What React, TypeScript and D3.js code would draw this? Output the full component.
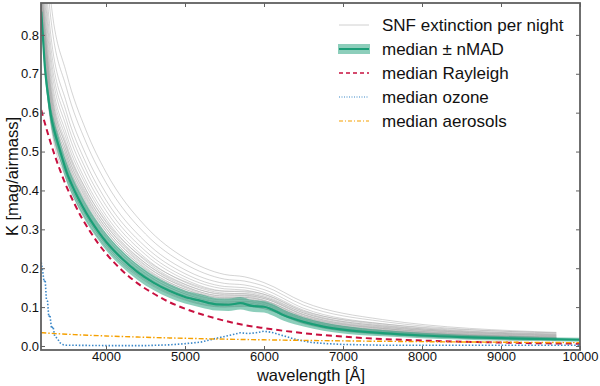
import React, { useRef, useEffect } from "react";
import * as d3 from "d3";

// median components, on one wavelength grid [Å]
const compWave = [3180, 3200, 3300, 3400, 3500, 3600, 3700, 3800, 3900, 4000, 4200, 4400, 4600, 4800, 5000, 5250, 5500, 5750, 6000, 6250, 6500, 7000, 7500, 8000, 8500, 9000, 9500, 10000];
const rayleigh = [0.607, 0.592, 0.522, 0.462, 0.41, 0.366, 0.327, 0.294, 0.264, 0.238, 0.195, 0.161, 0.135, 0.113, 0.096, 0.079, 0.065, 0.054, 0.046, 0.039, 0.033, 0.024, 0.018, 0.014, 0.011, 0.009, 0.007, 0.006];
const aerosols = [0.034, 0.034, 0.0325, 0.0314, 0.0303, 0.0293, 0.0283, 0.0275, 0.0266, 0.0258, 0.0244, 0.023, 0.0218, 0.0207, 0.0198, 0.0186, 0.0176, 0.0167, 0.0159, 0.0151, 0.0144, 0.0132, 0.0121, 0.0112, 0.0104, 0.0098, 0.0091, 0.0086];

// ozone has its own (finer) grid
const ozoneWave = [3180, 3200, 3215, 3230, 3245, 3260, 3275, 3290, 3310, 3330, 3350, 3380, 3420, 3460, 3500, 4000, 4500, 4800, 5000, 5200, 5400, 5600, 5700, 5800, 5900, 6000, 6100, 6200, 6400, 6600, 6800, 7000, 7500, 8000, 9000, 10000];
const ozone = [0.215, 0.19, 0.165, 0.17, 0.12, 0.115, 0.075, 0.08, 0.045, 0.05, 0.025, 0.02, 0.008, 0.003, 0.002, 0.001, 0.001, 0.003, 0.006, 0.01, 0.02, 0.029, 0.034, 0.032, 0.034, 0.038, 0.035, 0.029, 0.017, 0.009, 0.006, 0.004, 0.002, 0.002, 0.002, 0.002];

// median total extinction and its nMAD
const medWave = [3180, 3200, 3225, 3250, 3275, 3300, 3350, 3400, 3500, 3600, 3700, 3800, 3900, 4000, 4200, 4400, 4600, 4800, 5000, 5200, 5400, 5550, 5700, 5850, 6000, 6100, 6250, 6500, 6750, 7000, 7500, 8000, 8500, 9000, 9500, 10000];
const median = [0.86, 0.8, 0.72, 0.67, 0.63, 0.595, 0.55, 0.515, 0.448, 0.4, 0.36, 0.325, 0.295, 0.268, 0.225, 0.19, 0.163, 0.142, 0.126, 0.116, 0.107, 0.106, 0.11, 0.103, 0.101, 0.094, 0.079, 0.062, 0.05, 0.042, 0.033, 0.027, 0.023, 0.02, 0.018, 0.016];
const nmad = [0.02, 0.02, 0.021, 0.022, 0.023, 0.024, 0.025, 0.025, 0.025, 0.024, 0.024, 0.023, 0.022, 0.022, 0.021, 0.02, 0.019, 0.018, 0.017, 0.017, 0.016, 0.016, 0.016, 0.015, 0.015, 0.015, 0.014, 0.012, 0.011, 0.01, 0.008, 0.007, 0.006, 0.006, 0.005, 0.005];

// individual nights
const nightWave = [3180, 3300, 3500, 3750, 4000, 4500, 5000, 5500, 5750, 6000, 6500, 7500, 9700];
const nights = [
  [0.834, 0.571, 0.428, 0.325, 0.254, 0.166, 0.118, 0.1, 0.102, 0.096, 0.058, 0.03, 0.016],
  [0.847, 0.583, 0.438, 0.334, 0.261, 0.171, 0.122, 0.103, 0.105, 0.099, 0.06, 0.032, 0.017],
  [0.86, 0.595, 0.448, 0.342, 0.268, 0.176, 0.126, 0.106, 0.108, 0.101, 0.062, 0.033, 0.018],
  [0.873, 0.607, 0.458, 0.35, 0.275, 0.181, 0.13, 0.109, 0.111, 0.103, 0.064, 0.034, 0.018],
  [0.886, 0.619, 0.468, 0.359, 0.282, 0.187, 0.134, 0.112, 0.114, 0.106, 0.066, 0.036, 0.019],
  [0.899, 0.63, 0.478, 0.367, 0.289, 0.192, 0.138, 0.115, 0.116, 0.109, 0.068, 0.037, 0.02],
  [0.912, 0.642, 0.488, 0.376, 0.297, 0.197, 0.142, 0.119, 0.119, 0.111, 0.07, 0.039, 0.02],
  [0.925, 0.654, 0.499, 0.384, 0.304, 0.202, 0.146, 0.122, 0.122, 0.113, 0.072, 0.04, 0.021],
  [0.938, 0.666, 0.509, 0.393, 0.311, 0.208, 0.15, 0.125, 0.125, 0.116, 0.074, 0.041, 0.022],
  [0.951, 0.678, 0.519, 0.401, 0.318, 0.213, 0.154, 0.128, 0.128, 0.118, 0.076, 0.043, 0.023],
  [0.967, 0.692, 0.531, 0.412, 0.327, 0.219, 0.159, 0.132, 0.131, 0.122, 0.079, 0.045, 0.023],
  [0.983, 0.707, 0.544, 0.422, 0.336, 0.226, 0.164, 0.136, 0.134, 0.125, 0.081, 0.046, 0.024],
  [1.006, 0.728, 0.562, 0.437, 0.348, 0.235, 0.171, 0.141, 0.139, 0.129, 0.085, 0.049, 0.026],
  [1.029, 0.748, 0.58, 0.452, 0.361, 0.244, 0.178, 0.147, 0.144, 0.133, 0.088, 0.051, 0.027],
  [1.054, 0.772, 0.6, 0.469, 0.375, 0.255, 0.186, 0.153, 0.15, 0.138, 0.092, 0.054, 0.028],
  [1.087, 0.801, 0.625, 0.49, 0.393, 0.268, 0.196, 0.161, 0.157, 0.145, 0.097, 0.057, 0.03],
  [1.135, 0.845, 0.663, 0.522, 0.42, 0.288, 0.211, 0.172, 0.167, 0.154, 0.105, 0.063, 0.033],
  [1.184, 0.89, 0.701, 0.553, 0.447, 0.308, 0.226, 0.184, 0.178, 0.163, 0.113, 0.068, 0.035],
  [0.849, 0.585, 0.439, 0.333, 0.26, 0.169, 0.12, 0.101, 0.103, 0.096, 0.058, 0.03, 0.015],
  [0.865, 0.6, 0.453, 0.346, 0.272, 0.179, 0.129, 0.109, 0.111, 0.103, 0.064, 0.035, 0.019],
  [0.874, 0.609, 0.461, 0.354, 0.279, 0.185, 0.134, 0.113, 0.115, 0.107, 0.068, 0.038, 0.021],
  [0.885, 0.619, 0.47, 0.362, 0.287, 0.192, 0.14, 0.118, 0.12, 0.112, 0.072, 0.041, 0.023],
  [0.896, 0.629, 0.48, 0.371, 0.295, 0.199, 0.146, 0.124, 0.125, 0.117, 0.076, 0.045, 0.026],
  [0.907, 0.64, 0.489, 0.38, 0.303, 0.206, 0.152, 0.129, 0.13, 0.122, 0.081, 0.048, 0.029],
  [0.918, 0.65, 0.499, 0.389, 0.311, 0.213, 0.158, 0.134, 0.135, 0.126, 0.085, 0.052, 0.031],
  [0.932, 0.664, 0.512, 0.4, 0.321, 0.222, 0.166, 0.141, 0.141, 0.133, 0.09, 0.057, 0.034],
];

const xTicks = [4000, 5000, 6000, 7000, 8000, 9000, 10000];
const yTicks = [0, 0.1, 0.2, 0.3, 0.4, 0.5, 0.6, 0.7, 0.8];

const GREEN = "#1b9e77";
const RED = "#c8103f";
const BLUE = "#3a87c8";
const ORANGE = "#f5a000";
const FRAME = "#606060";

const App = () => {
  const svgRef = useRef<SVGSVGElement>(null);

  useEffect(() => {
    const width = 600;
    const height = 386;
    const left = 41, right = 580, top = 3, bottom = 350;

    const svg = d3.select(svgRef.current).attr("width", width).attr("height", height);
    svg.selectAll("*").remove();

    const x = d3.scaleLinear().domain([3177, 10000]).range([left, right]);
    const y = d3.scaleLinear().domain([-0.0103, 0.882]).range([bottom, top]);

    svg.append("clipPath").attr("id", "plot-clip")
      .append("rect").attr("x", left).attr("y", top).attr("width", right - left).attr("height", bottom - top);

    const g = svg.append("g").attr("clip-path", "url(#plot-clip)");

    const lineOn = (ws: number[]) =>
      d3.line<number>().x((_, i) => x(ws[i])).y((d) => y(d)).curve(d3.curveMonotoneX);

    // nights
    nights.forEach((n) => {
      g.append("path").attr("d", lineOn(nightWave)(n))
        .attr("fill", "none").attr("stroke", "#a8a8a8")
        .attr("stroke-width", 0.7).attr("stroke-opacity", 0.7);
    });

    // nMAD band
    const band = d3.area<number>()
      .x((_, i) => x(medWave[i]))
      .y0((d, i) => y(d - nmad[i]))
      .y1((d, i) => y(d + nmad[i]))
      .curve(d3.curveMonotoneX);
    g.append("path").attr("d", band(median)).attr("fill", GREEN).attr("fill-opacity", 0.5);

    g.append("path").attr("d", lineOn(medWave)(median))
      .attr("fill", "none").attr("stroke", GREEN).attr("stroke-width", 2.2);

    g.append("path").attr("d", lineOn(compWave)(rayleigh))
      .attr("fill", "none").attr("stroke", RED).attr("stroke-width", 2)
      .attr("stroke-dasharray", "6,4");

    g.append("path").attr("d", d3.line<number>().x((_, i) => x(ozoneWave[i])).y((d) => y(d))(ozone))
      .attr("fill", "none").attr("stroke", BLUE).attr("stroke-width", 1.6)
      .attr("stroke-dasharray", "1.5,1.8");

    g.append("path").attr("d", lineOn(compWave)(aerosols))
      .attr("fill", "none").attr("stroke", ORANGE).attr("stroke-width", 1.4)
      .attr("stroke-dasharray", "5,2,1.5,2");

    // axes with inward ticks on all four sides
    const styleAxis = (sel: any) => {
      sel.select(".domain").remove();
      sel.selectAll(".tick line").attr("stroke", FRAME).attr("stroke-width", 1);
      sel.selectAll(".tick text").attr("fill", "#111").attr("font-size", 13)
        .attr("font-family", "Liberation Sans, Arial, sans-serif");
    };

    svg.append("g").attr("transform", `translate(0,${bottom})`)
      .call(d3.axisBottom(x).tickValues(xTicks).tickFormat(d3.format("d")).tickSizeInner(-4).tickSizeOuter(0).tickPadding(2))
      .call(styleAxis);
    svg.append("g").attr("transform", `translate(0,${top})`)
      .call(d3.axisTop(x).tickValues(xTicks).tickFormat(() => "").tickSizeInner(-4).tickSizeOuter(0))
      .call(styleAxis);
    svg.append("g").attr("transform", `translate(${left},0)`)
      .call(d3.axisLeft(y).tickValues(yTicks).tickFormat(d3.format(".1f")).tickSizeInner(-4).tickSizeOuter(0).tickPadding(2))
      .call(styleAxis);
    svg.append("g").attr("transform", `translate(${right},0)`)
      .call(d3.axisRight(y).tickValues(yTicks).tickFormat(() => "").tickSizeInner(-4).tickSizeOuter(0))
      .call(styleAxis);

    svg.append("rect").attr("x", left).attr("y", top).attr("width", right - left).attr("height", bottom - top)
      .attr("fill", "none").attr("stroke", FRAME).attr("stroke-width", 1.8);

    // axis labels
    svg.append("text").attr("x", 311).attr("y", 380.5)
      .attr("text-anchor", "middle").attr("font-size", 16.5).attr("fill", "#111")
      .text("wavelength [Å]");
    svg.append("text").attr("transform", `translate(18,${(top + bottom) / 2}) rotate(-90)`)
      .attr("text-anchor", "middle").attr("font-size", 16.5).attr("fill", "#111")
      .text("K [mag/airmass]");

    // legend
    const legend = svg.append("g");
    const rows = [
      { label: "SNF extinction per night", kind: "night" },
      { label: "median ± nMAD", kind: "median" },
      { label: "median Rayleigh", kind: "rayleigh" },
      { label: "median ozone", kind: "ozone" },
      { label: "median aerosols", kind: "aerosols" },
    ];
    rows.forEach((r, i) => {
      const ry = 25 + i * 24;
      const row = legend.append("g").attr("transform", `translate(0,${ry})`);
      if (r.kind === "median") {
        row.append("rect").attr("x", 338).attr("y", -5).attr("width", 32).attr("height", 10)
          .attr("fill", GREEN).attr("fill-opacity", 0.5);
      }
      const seg = row.append("line").attr("x1", 339).attr("x2", 369).attr("y1", 0).attr("y2", 0);
      if (r.kind === "night") seg.attr("stroke", "#c4c4c4").attr("stroke-width", 0.8);
      if (r.kind === "median") seg.attr("stroke", GREEN).attr("stroke-width", 2);
      if (r.kind === "rayleigh") seg.attr("stroke", RED).attr("stroke-width", 1.6).attr("stroke-dasharray", "4,3");
      if (r.kind === "ozone") seg.attr("stroke", BLUE).attr("stroke-width", 1.2).attr("stroke-dasharray", "1,1.5");
      if (r.kind === "aerosols") seg.attr("stroke", ORANGE).attr("stroke-width", 1.2).attr("stroke-dasharray", "4,2,1,2");
      row.append("text").attr("x", 382).attr("y", 0).attr("dy", "0.35em")
        .attr("font-size", 17).attr("fill", "#111").text(r.label);
    });
  }, []);

  return (
    <svg
      ref={svgRef}
      style={{ position: "absolute", left: 0, top: 0, fontFamily: "Liberation Sans, Arial, sans-serif", background: "#fff" }}
    />
  );
};

export default App;
